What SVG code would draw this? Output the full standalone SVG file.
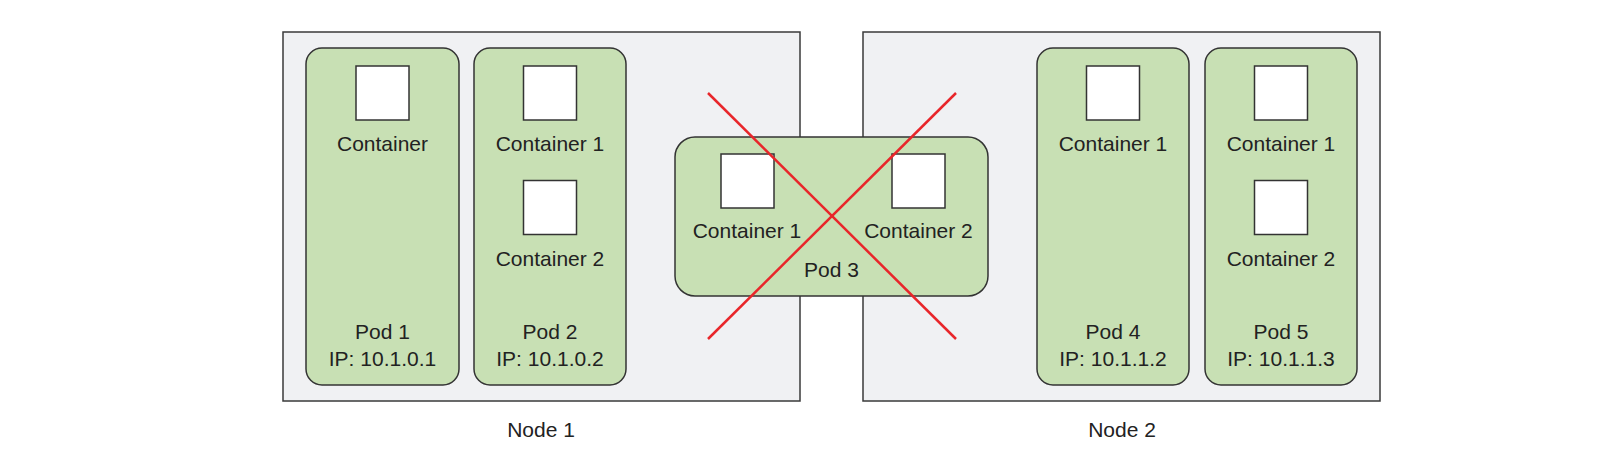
<svg xmlns="http://www.w3.org/2000/svg" width="1615" height="463" viewBox="0 0 1615 463">
<style>
.node{fill:#f0f1f3;stroke:#3a3a3a;stroke-width:1.5}
.pod{fill:#c8e0b4;stroke:#333;stroke-width:1.5}
.box{fill:#fff;stroke:#333;stroke-width:1.5}
text{font-family:"Liberation Sans",Arial,sans-serif;font-size:21px;fill:#222;text-anchor:middle}
.x{stroke:#e8262a;stroke-width:2.5;fill:none}
</style>
<rect width="1615" height="463" fill="#fff"/>
<g id="node1">
<rect class="node" x="283" y="32" width="517" height="369"/>
<text x="541" y="437">Node 1</text>
</g>
<g id="node2">
<rect class="node" x="863" y="32" width="517" height="369"/>
<text x="1122" y="437">Node 2</text>
</g>
<g id="pod1">
<rect class="pod" x="306" y="48" width="153" height="337" rx="16"/>
<rect class="box" x="356" y="66" width="53" height="54"/>
<text x="382.5" y="151">Container</text>
<text x="382.5" y="339">Pod 1</text>
<text x="382.5" y="366">IP: 10.1.0.1</text>
</g>
<g id="pod2">
<rect class="pod" x="474" y="48" width="152" height="337" rx="16"/>
<rect class="box" x="523.5" y="66" width="53" height="54"/>
<text x="550" y="151">Container 1</text>
<rect class="box" x="523.5" y="180.5" width="53" height="54"/>
<text x="550" y="266">Container 2</text>
<text x="550" y="339">Pod 2</text>
<text x="550" y="366">IP: 10.1.0.2</text>
</g>
<g id="pod4">
<rect class="pod" x="1037" y="48" width="152" height="337" rx="16"/>
<rect class="box" x="1086.5" y="66" width="53" height="54"/>
<text x="1113" y="151">Container 1</text>
<text x="1113" y="339">Pod 4</text>
<text x="1113" y="366">IP: 10.1.1.2</text>
</g>
<g id="pod5">
<rect class="pod" x="1205" y="48" width="152" height="337" rx="16"/>
<rect class="box" x="1254.5" y="66" width="53" height="54"/>
<text x="1281" y="151">Container 1</text>
<rect class="box" x="1254.5" y="180.5" width="53" height="54"/>
<text x="1281" y="266">Container 2</text>
<text x="1281" y="339">Pod 5</text>
<text x="1281" y="366">IP: 10.1.1.3</text>
</g>
<g id="pod3">
<rect class="pod" x="675" y="137" width="313" height="159" rx="20"/>
<rect class="box" x="721" y="154" width="53" height="54"/>
<text x="747" y="238">Container 1</text>
<rect class="box" x="892" y="154" width="53" height="54"/>
<text x="918.5" y="238">Container 2</text>
<text x="831.5" y="277">Pod 3</text>
</g>
<g id="connectors">
<line class="x" x1="708" y1="93" x2="956" y2="339"/>
<line class="x" x1="956" y1="93" x2="708" y2="339"/>
</g>
</svg>
